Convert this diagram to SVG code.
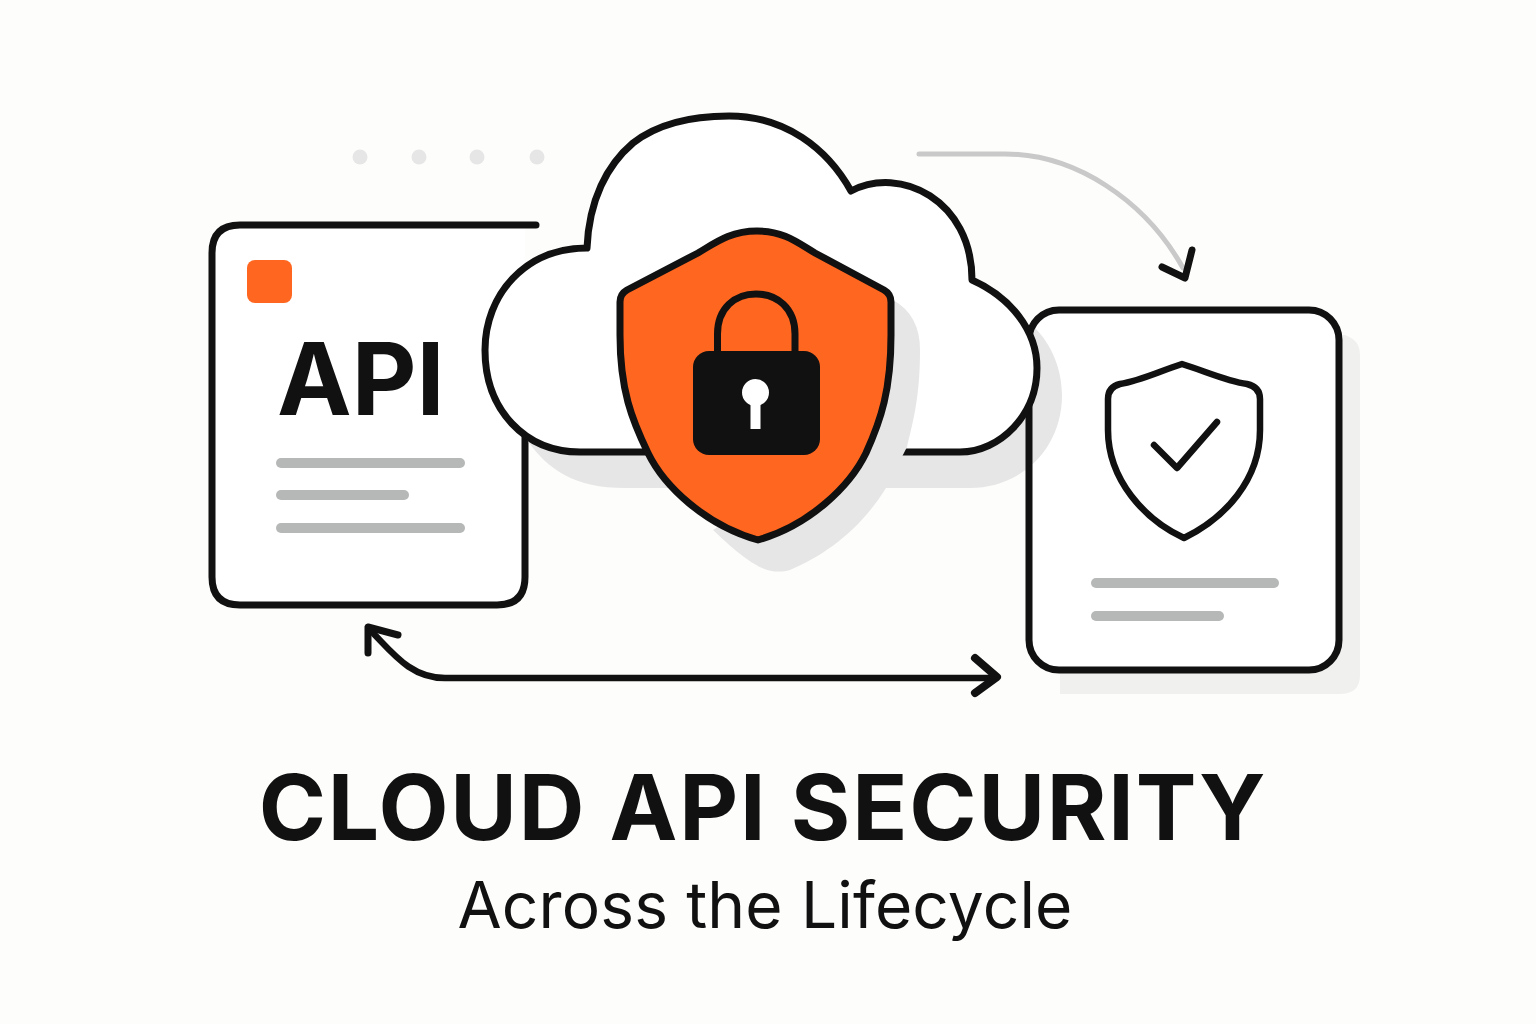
<svg xmlns="http://www.w3.org/2000/svg" width="1536" height="1024" viewBox="0 0 1536 1024">
<style>
.ol{fill:none;stroke:#111;stroke-width:6.500;stroke-linecap:round;stroke-linejoin:round}
.card{fill:#fff;stroke:#111;stroke-width:7;stroke-linejoin:round;stroke-linecap:round}
.bar{fill:#b6b7b7}
.sh{fill:#e6e6e6}
.dot{fill:#e6e6e6}
text{font-family:Inter,"Liberation Sans",sans-serif;fill:#111}
</style>
<rect width="1536" height="1024" fill="#fdfdfb"/>
<g id="dots"><circle class="dot" cx="360" cy="157" r="7.500"/><circle class="dot" cx="419" cy="157" r="7.500"/><circle class="dot" cx="477" cy="157" r="7.500"/><circle class="dot" cx="537" cy="157" r="7.500"/></g>
<g id="connectors">
<path d="M919 154H1005C1075 154 1145 200 1183 268" fill="none" stroke="#c9c9c9" stroke-width="5" stroke-linecap="round"/>
<path class="ol" style="stroke-width:7" d="M1162 267L1185 278L1192 250"/>
<path class="ol" d="M371 631C392 652 410 678 445 678H995"/>
<path class="ol" style="stroke-width:7" d="M398 635L368 627V653"/>
<path class="ol" style="stroke-width:8" d="M975 658L997 677L975 693"/>
</g>
<g id="api-card">
<path d="M240 225H525V577Q525 605 497 605H240Q212 605 212 577V253Q212 225 240 225Z" fill="#fff"/>
<path class="card" style="fill:none" d="M536 225H240Q212 225 212 253V577Q212 605 240 605H497Q525 605 525 577V420"/>
<rect x="247" y="260" width="45" height="43" rx="8" fill="#ff6720"/>
<text x="277" y="415" font-size="100" font-weight="700">API</text>
<rect class="bar" x="276" y="458" width="189" height="10" rx="5"/>
<rect class="bar" x="276" y="490" width="133" height="10" rx="5"/>
<rect class="bar" x="276" y="523" width="189" height="10" rx="5"/>
</g>
<g id="check-card">
<path fill="#f0f0ee" d="M1060 335H1345Q1360 340 1360 355V675Q1360 694 1340 694H1060Z"/>
<rect x="1029" y="310" width="310" height="360" rx="30" fill="#fff"/>
<path class="ol" d="M1182 364C1160 371 1140 381 1120 384Q1108 387 1108 399V430C1108 480 1145 520 1184 538C1225 518 1260 480 1260 430V399Q1260 387 1247 384C1226 381 1205 371 1182 364Z"/>
<path class="ol" d="M1154 445L1177 468L1217 422"/>
<rect class="bar" x="1091" y="578" width="188" height="10" rx="5"/>
<rect class="bar" x="1091" y="611" width="133" height="10" rx="5"/>
</g>
<g id="cloud">
<path class="sh" d="M527 440C548 470 575 488 625 488H970C1020 488 1062 450 1062 395C1062 370 1052 345 1035 328L1000 440Z"/>
<rect class="card" style="fill:none" x="1029" y="310" width="310" height="360" rx="30"/>
<path class="card" d="M587 248C589 200 607 165 633 143C660 122 695 116 729 116C785 116 827 148 851 191C900 165 972 200 972 280C1010 297 1037 330 1037 368C1037 415 1000 452 960 452H580C525 452 485 410 485 350C485 295 525 248 587 248Z"/>
</g>
<g id="shield">
<path class="sh" d="M893 300Q920 315 920 350C920 400 912 425 907 447L886 488C860 530 825 555 790 570C770 575 755 570 713 530L850 440Z"/>
<path d="M757 231C730 231 715 243 698 253L627 290Q620 294 620 302V335C620 390 632 420 648 453C664 486 705 525 758 540C810 525 850 486 866 453C881 420 891 390 891 335V302Q891 294 884 290L815 253C798 243 784 231 757 231Z" fill="#ff6720" stroke="#111" stroke-width="7" stroke-linejoin="round"/>
<path d="M717.500 352V334C717.500 308 735 294 756 294C777 294 795 308 795 334V352" fill="none" stroke="#111" stroke-width="7"/>
<rect x="693" y="351" width="127" height="104" rx="16" fill="#111"/>
<circle cx="755.500" cy="392.500" r="13.500" fill="#fff"/>
<rect x="750.500" y="398" width="10" height="31" fill="#fff"/>
</g>
<g id="title">
<text x="763" y="840" font-size="91" font-weight="700" text-anchor="middle" letter-spacing="1.800">CLOUD API SECURITY</text>
<text x="765" y="928" font-size="64" text-anchor="middle" letter-spacing="0.150">Across the Lifecycle</text>
</g>
</svg>
